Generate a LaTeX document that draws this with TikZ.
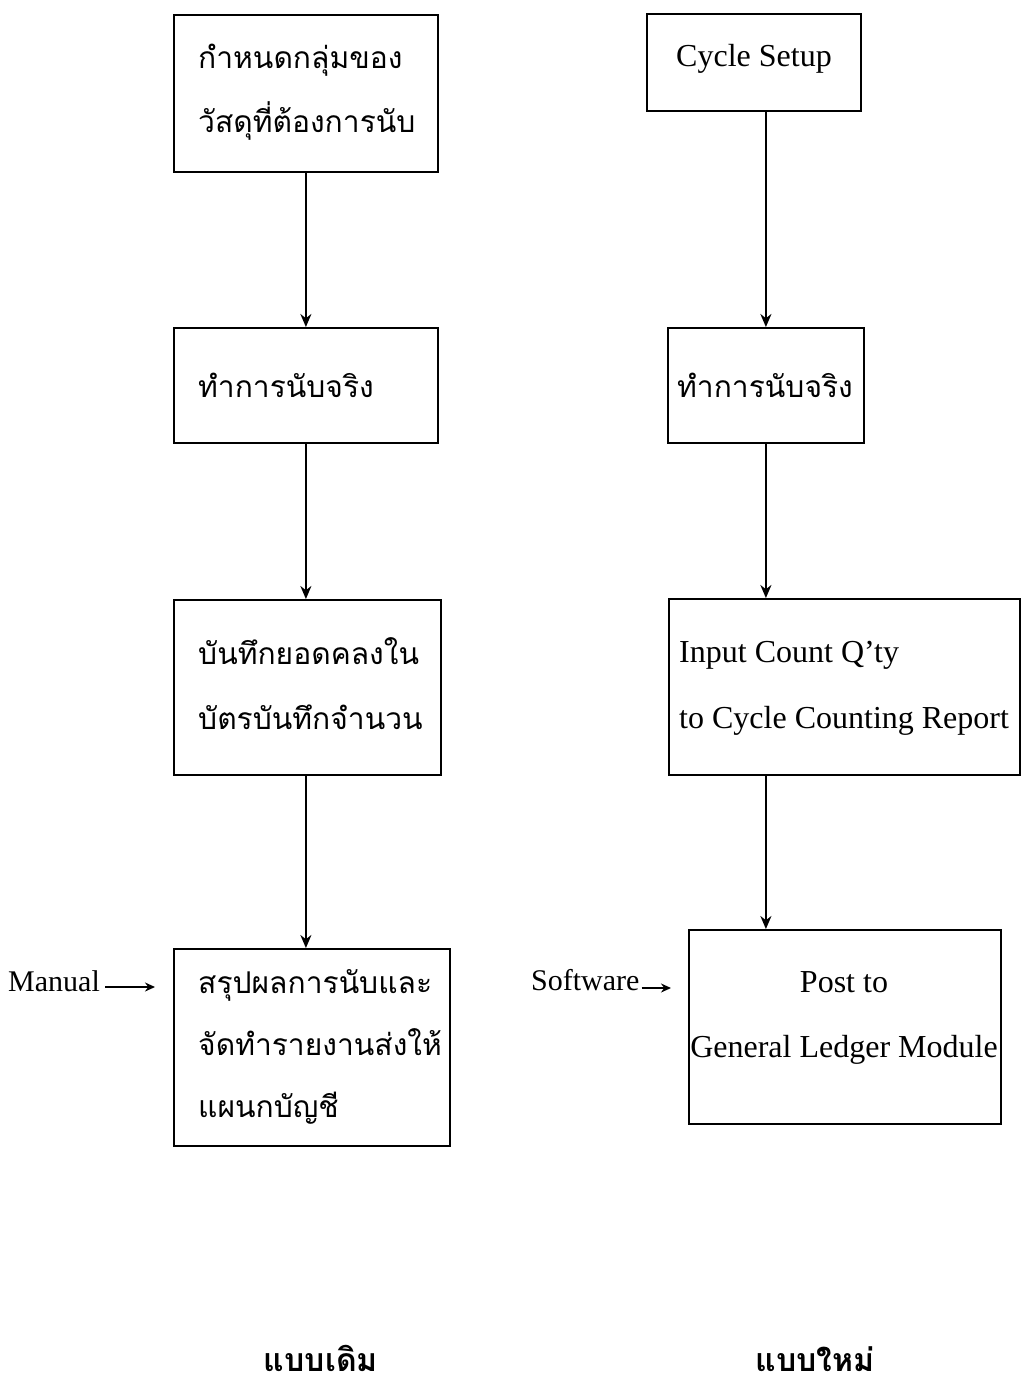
\documentclass[tikz,border=0pt]{standalone}
\usepackage{fontspec}
\setmainfont{Liberation Serif}
\newfontfamily\thaifont[Script=Thai]{Loma}
\usetikzlibrary{arrows.meta}
\begin{document}
\begin{tikzpicture}[x=1pt,y=-1pt,
  box/.style={draw, line width=1.8pt, inner sep=0pt, anchor=north west},
  th/.style={anchor=base west, inner sep=0pt, font=\thaifont\fontsize{30}{36}\selectfont},
  en/.style={anchor=base west, inner sep=0pt, font=\fontsize{32}{38}\selectfont},
  side/.style={anchor=base west, inner sep=0pt, font=\fontsize{30}{36}\selectfont},
  foot/.style={anchor=base, inner sep=0pt, font=\thaifont\bfseries\fontsize{32}{38}\selectfont},
  flow/.style={line width=2pt, -{Stealth[length=13pt,width=11pt]}},
  pointer/.style={line width=1.8pt, -{Stealth[length=10pt,width=9pt]}}]
\useasboundingbox[fill=white] (0,0) rectangle (1021,1391);

% left column (old method)
\node[box, minimum width=264pt, minimum height=157pt] (l1) at (173,14) {};
\node[th] (l1a) at (198,69) {กำหนดกลุ่มของ};
\node[th] (l1b) at (198,133) {วัสดุที่ต้องการนับ};

\node[box, minimum width=264pt, minimum height=115pt] (l2) at (173,327) {};
\node[th] (l2a) at (198,397) {ทำการนับจริง};

\node[box, minimum width=267pt, minimum height=175pt] (l3) at (173,599) {};
\node[th] (l3a) at (198,664) {บันทึกยอดคลงใน};
\node[th] (l3b) at (198,729) {บัตรบันทึกจำนวน};

\node[box, minimum width=276pt, minimum height=197pt] (l4) at (173,948) {};
\node[th] (l4a) at (198,993) {สรุปผลการนับและ};
\node[th] (l4b) at (198,1055) {จัดทำรายงานส่งให้};
\node[th] (l4c) at (198,1117) {แผนกบัญชี};

\draw[flow] (l1.south) -- (l1.south |- l2.north);
\draw[flow] (l2.south) -- (l2.south |- l3.north);
\draw[flow] (l2.south |- l3.south) -- (l2.south |- l4.north);

\node[side] (man) at (8,991) {Manual};
\coordinate (manend) at (155,987);
\draw[pointer] (man.east |- manend) ++(5,0) -- (manend);

% right column (new method)
\node[box, minimum width=214pt, minimum height=97pt] (r1) at (646,13) {};
\node[en] (r1a) at (676,67) {Cycle Setup};

\node[box, minimum width=196pt, minimum height=115pt] (r2) at (667,327) {};
\node[th] (r2a) at (677,397) {ทำการนับจริง};

\node[box, minimum width=351pt, minimum height=176pt] (r3) at (668,598) {};
\node[en] (r3a) at (679,662) {Input Count Q’ty};
\node[en] (r3b) at (679,728) {to Cycle Counting Report};

\node[box, minimum width=312pt, minimum height=194pt] (r4) at (688,929) {};
\node[en, anchor=base] (r4a) at (844,992) {Post to};
\node[en, anchor=base] (r4b) at (844,1057) {General Ledger Module};

\draw[flow] (r2.north |- r1.south) -- (r2.north);
\draw[flow] (r2.south) -- (r2.south |- r3.north);
\draw[flow] (r2.south |- r3.south) -- (r2.south |- r4.north);

\node[side] (soft) at (531,990) {Software};
\coordinate (softend) at (671,988);
\draw[pointer] (soft.east |- softend) ++(2,0) -- (softend);

% captions
\node[foot] (capl) at (321,1371) {แบบเดิม};
\node[foot] (capr) at (815,1371) {แบบใหม่};
\end{tikzpicture}
\end{document}
